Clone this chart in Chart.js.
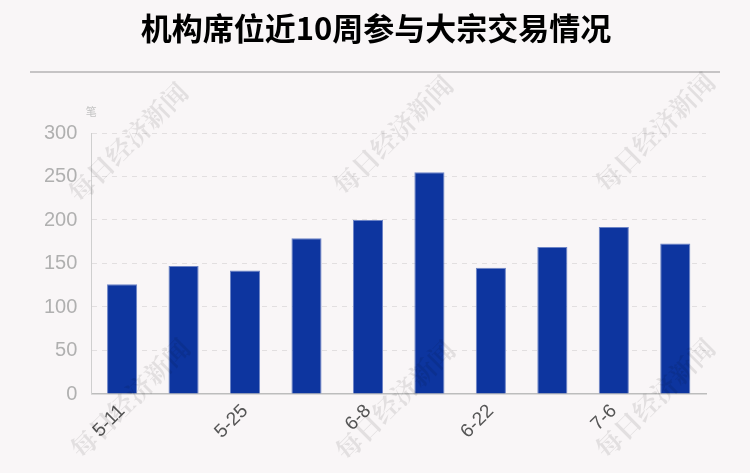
<!DOCTYPE html>
<html>
<head>
<meta charset="utf-8">
<script src="https://cdn.jsdelivr.net/npm/chart.js@4.4.0/dist/chart.umd.min.js"></script>
<style>
  html, body { margin: 0; padding: 0; background: #f9f6f7; }
  #wrap { width: 750px; height: 473px; }
</style>
</head>
<body>
<div id="wrap"><canvas id="myChart" width="750" height="473"></canvas></div>
<script>
// data
const weeks = ["5-11", "5-18", "5-25", "6-1", "6-8", "6-15", "6-22", "6-29", "7-6", "7-13"];
const trades = [126, 147, 142, 179, 200, 255, 145, 169, 192, 173];
const yTicks = [0, 50, 100, 150, 200, 250, 300];

const titleText = "机构席位近10周参与大宗交易情况";
const unitText = "笔";
const markText = "每日经济新闻";

// title, rule, unit and watermark
const decor = {
	id: "decor",
	beforeDraw(chart) {
		const c = chart.ctx;
		c.save();
		c.fillStyle = "#f9f6f7";
		c.fillRect(0, 0, chart.width, chart.height);
		c.restore();
	},
	afterDraw(chart) {
		const c = chart.ctx;
		c.save();
		c.fillStyle = "#000";
		c.font = "bold 31px 'Noto Sans CJK SC'";
		c.textAlign = "center";
		c.textBaseline = "middle";
		c.fillText(titleText, 376, 28);

		c.strokeStyle = "#c6c4c5";
		c.lineWidth = 2;
		c.beginPath();
		c.moveTo(30, 72);
		c.lineTo(720, 72);
		c.stroke();

		c.fillStyle = "#c4c4c4";
		c.font = "11px 'Noto Sans CJK SC'";
		c.textAlign = "center";
		c.fillText(unitText, chart.chartArea.left, 112);

		c.fillStyle = "rgba(0,0,0,0.09)";
		c.font = "bold 26px 'Noto Serif CJK SC', 'Noto Sans CJK SC'";
		[[128, 142], [393, 135], [655, 132], [130, 398], [395, 400], [655, 398]].forEach(p => {
			c.save();
			c.translate(p[0], p[1]);
			c.rotate(-Math.PI / 4);
			c.fillText(markText, 0, 0);
			c.restore();
		});
		c.restore();
	}
};

var ctx = document.getElementById("myChart");
var chart = new Chart(ctx, {
	type: "bar",
	data: {
		labels: weeks,
		datasets: [
			{
				label: "大宗交易",
				data: trades,
				backgroundColor: "#0d359f",
				borderColor: "#6d84c6",
				borderWidth: 1,
				barPercentage: 0.49,
				categoryPercentage: 1
			}
		]
	},
	plugins: [decor],
	options: {
		responsive: false,
		animation: false,
		layout: { padding: { top: 133, left: 30, right: 44, bottom: 24 } },
		plugins: {
			legend: { display: false },
			tooltip: { enabled: false }
		},
		scales: {
			x: {
				grid: { display: false, drawTicks: false },
				border: { color: "#bdbdbd", width: 1.5 },
				ticks: {
					autoSkip: false,
					maxRotation: 45,
					minRotation: 45,
					padding: 6,
					color: "#555",
					font: { size: 19, family: "'Liberation Sans', Arial" },
					callback: function (v, i) { return i % 2 === 0 ? weeks[i] : ""; }
				}
			},
			y: {
				min: 0,
				max: 300,
				afterBuildTicks: axis => { axis.ticks = yTicks.map(v => ({ value: v })); },
				grid: { color: "#e2dfe0", drawTicks: false },
				border: { color: "#cfcfcf", dash: [5, 5], display: true },
				ticks: {
					padding: 14,
					color: "#b0b0b0",
					font: { size: 20, family: "'Liberation Sans', Arial" }
				}
			}
		}
	}
});
</script>
</body>
</html>
